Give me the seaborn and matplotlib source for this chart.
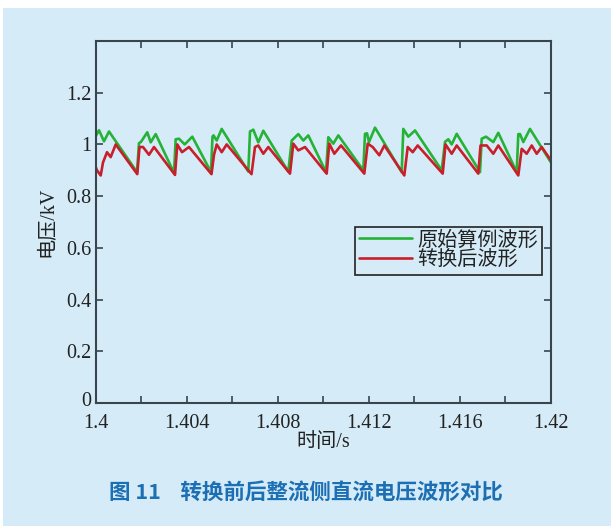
import numpy as np
import pandas as pd
import matplotlib
matplotlib.use("Agg")
import matplotlib.pyplot as plt
import matplotlib.transforms as mtransforms
import seaborn as sns
from matplotlib.patches import Rectangle
from matplotlib.ticker import MultipleLocator

# ---------------- data ----------------
# time offsets in ms after 1.4 s, voltages in kV
green_ms = [0.000, 0.154, 0.373, 0.593, 1.822,
            1.910, 1.998, 2.274, 2.424, 2.643, 3.447,
            3.521, 3.666, 3.917, 4.250, 5.071,
            5.137, 5.181, 5.322, 5.541, 6.709,
            6.784, 6.929, 7.148, 7.368, 8.465,
            8.615, 8.905, 9.124, 9.344, 10.121,
            10.222, 10.441, 10.661, 11.759,
            11.833, 11.921, 12.009, 12.272, 13.445,
            13.515, 13.734, 14.029, 15.201,
            15.346, 15.491, 15.640, 15.860, 16.883,
            16.957, 17.146, 17.467, 17.686, 18.494,
            18.564, 18.639, 18.784, 19.078, 20.000]
green_kv = [1.030, 1.055, 1.012, 1.050, 0.893,
            1.005, 1.010, 1.047, 1.008, 1.040, 0.890,
            1.020, 1.022, 1.000, 1.030, 0.893,
            1.030, 1.035, 1.015, 1.060, 0.895,
            1.050, 1.057, 1.008, 1.053, 0.895,
            1.015, 1.040, 1.015, 1.035, 0.893,
            1.028, 1.003, 1.035, 0.900,
            1.041, 1.043, 1.009, 1.065, 0.893,
            1.060, 1.030, 1.054, 0.900,
            1.010, 1.020, 1.000, 1.041, 0.893,
            1.022, 1.030, 1.009, 1.045, 0.893,
            1.040, 1.040, 1.009, 1.060, 0.930]

red_ms = [0.000, 0.066, 0.228, 0.329, 0.505, 0.667, 0.887, 1.835,
          1.932, 2.086, 2.349, 2.569, 3.491,
          3.592, 3.798, 4.105, 5.093,
          5.203, 5.322, 5.541, 5.761, 6.850,
          7.003, 7.148, 7.368, 7.587, 8.540,
          8.685, 8.905, 9.199, 10.151,
          10.266, 10.485, 10.779, 11.802,
          11.952, 12.171, 12.461, 12.681, 13.559,
          13.708, 13.928, 14.147, 15.245,
          15.368, 15.640, 15.860, 16.808,
          16.905, 17.177, 17.467, 17.686, 18.564,
          18.714, 18.933, 19.153, 19.372, 19.592, 20.000]
red_kv = [0.915, 0.900, 0.880, 0.930, 0.970, 0.951, 1.000, 0.885,
          0.990, 0.990, 0.960, 0.990, 0.882,
          1.000, 0.970, 0.990, 0.885,
          0.960, 1.000, 0.970, 1.000, 0.885,
          0.990, 0.996, 0.964, 0.990, 0.887,
          1.003, 0.977, 0.990, 0.887,
          1.003, 0.964, 0.996, 0.887,
          1.003, 0.990, 0.958, 0.996, 0.880,
          0.990, 0.970, 0.996, 0.887,
          1.000, 0.964, 0.996, 0.887,
          0.996, 0.996, 0.964, 0.996, 0.880,
          0.983, 0.964, 0.996, 0.964, 0.990, 0.938]

series_names = ["原始算例波形", "转换后波形"]
x_ticks = [1.4, 1.404, 1.408, 1.412, 1.416, 1.42]
x_tick_labels = ["1.4", "1.404", "1.408", "1.412", "1.416", "1.42"]
y_ticks = [0, 0.2, 0.4, 0.6, 0.8, 1.0, 1.2, 1.4]
y_tick_labels = ["0", "0.2", "0.4", "0.6", "0.8", "1", "1.2", ""]
x_label = "时间/s"
y_label = "电压/kV"
caption = "图 11    转换前后整流侧直流电压波形对比"

# ---------------- build table ----------------
df = pd.concat([
    pd.DataFrame({"t": 1.4 + np.array(green_ms) / 1000.0, "v": green_kv,
                  "s": series_names[0]}),
    pd.DataFrame({"t": 1.4 + np.array(red_ms) / 1000.0, "v": red_kv,
                  "s": series_names[1]}),
], ignore_index=True)

# ---------------- style ----------------
sns.set_theme(style="ticks")
BG = "#d5ecf8"
SPINE = "#39444c"
TXT = "#222222"
plt.rcParams["font.family"] = ["Liberation Serif", "Noto Sans CJK SC"]
plt.rcParams["axes.unicode_minus"] = False

fig = plt.figure(figsize=(6.11, 5.26), dpi=100, facecolor=BG)
# white margins at top and left edge of the scanned page
fig.patches.append(Rectangle((0, 1 - 8 / 526), 1, 8 / 526, transform=fig.transFigure,
                             facecolor="white", edgecolor="none", zorder=0))
fig.patches.append(Rectangle((0, 0), 3 / 611, 1, transform=fig.transFigure,
                             facecolor="white", edgecolor="none", zorder=0))

ax = fig.add_axes([95.5 / 611, 1 - 403 / 526, 455.5 / 611, 362 / 526])
ax.set_facecolor(BG)

palette = {series_names[0]: "#25b236", series_names[1]: "#c81f2b"}
sns.lineplot(data=df, x="t", y="v", hue="s", palette=palette, estimator=None,
             sort=False, linewidth=1.9, ax=ax, hue_order=series_names)

ax.set_xlim(1.4, 1.42)
ax.set_ylim(0, 1.4)
ax.set_xticks(x_ticks)
ax.set_xticklabels(x_tick_labels)
ax.xaxis.set_minor_locator(MultipleLocator(0.002))
ax.set_yticks(y_ticks)
ax.set_yticklabels(y_tick_labels)

ax.tick_params(which="both", direction="in", length=5, width=1.2, colors=SPINE,
               labelcolor=TXT, labelsize=14.5, top=True, right=True)
ax.tick_params(axis="x", which="major", pad=8)
ax.tick_params(axis="y", which="major", pad=3)
for sp in ax.spines.values():
    sp.set_visible(True)
    sp.set_color(SPINE)
    sp.set_linewidth(1.5)

# the "0" label sits slightly above the corner, as in the reference
zero_lbl = ax.get_yticklabels()[0]
zero_lbl.set_transform(zero_lbl.get_transform() +
                       mtransforms.ScaledTranslation(0, 4 / 100, fig.dpi_scale_trans))

ax.set_xlabel(x_label, fontsize=14.5, color=TXT, labelpad=0)
ax.set_ylabel(y_label, fontsize=14.5, color=TXT, labelpad=6)

leg = ax.legend(loc="upper left", bbox_to_anchor=(0.57, 0.486), borderaxespad=0,
                frameon=True, fancybox=False, fontsize=14.5, handlelength=2.6,
                handletextpad=0.3, borderpad=0.2, labelspacing=0.05)
leg.get_frame().set_edgecolor(TXT)
leg.get_frame().set_facecolor(BG)
leg.get_frame().set_alpha(1)
leg.get_frame().set_linewidth(1.2)
for t in leg.get_texts():
    t.set_color(TXT)

fig.text(0.5, 1 - 492 / 526, caption, ha="center", va="center", fontsize=15.5,
         fontweight="bold", color="#1d6fb4", family=["Noto Sans CJK SC"])

fig.savefig("out.png", dpi=100, facecolor=BG)
